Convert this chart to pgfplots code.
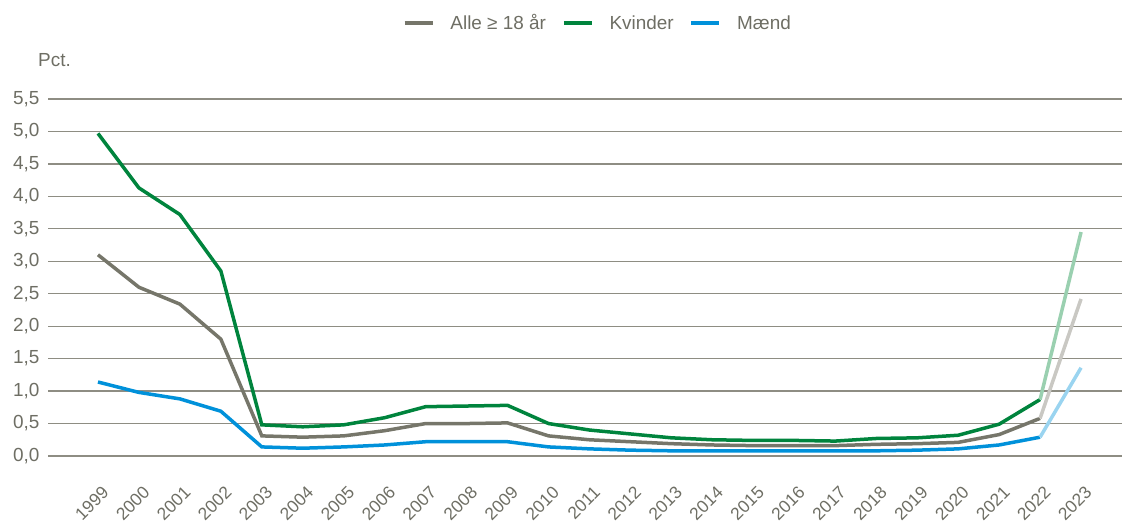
\documentclass[border=0pt]{standalone}
\usepackage{pgfplots}
\pgfplotsset{compat=1.18}
\usepackage{pgfplotstable}
\usepackage{fontspec}
\setmainfont{Liberation Sans}
\definecolor{cgrey}{HTML}{76766A}
\definecolor{cgreen}{HTML}{00843D}
\definecolor{cblue}{HTML}{0091DA}
\definecolor{lgrey}{HTML}{C9C8C3}
\definecolor{lgreen}{HTML}{9AD0B0}
\definecolor{lblue}{HTML}{9AD4F0}
\definecolor{txt}{HTML}{6E6E64}
\definecolor{gridc}{HTML}{8E8D83}

\pgfplotstableread{
x alle kvinder maend
0 3.10 4.97 1.14
1 2.60 4.13 0.98
2 2.34 3.72 0.88
3 1.80 2.85 0.69
4 0.31 0.48 0.14
5 0.29 0.45 0.12
6 0.31 0.48 0.14
7 0.39 0.59 0.17
8 0.50 0.76 0.22
9 0.50 0.77 0.22
10 0.51 0.78 0.22
11 0.31 0.50 0.14
12 0.25 0.40 0.11
13 0.22 0.34 0.09
14 0.19 0.28 0.08
15 0.17 0.25 0.08
16 0.16 0.24 0.08
17 0.16 0.24 0.08
18 0.16 0.23 0.08
19 0.18 0.27 0.08
20 0.19 0.28 0.09
21 0.21 0.32 0.11
22 0.33 0.49 0.17
23 0.58 0.87 0.29
}\maindata
\pgfplotstableread{
x alle kvinder maend
23 0.58 0.87 0.29
24 2.42 3.45 1.36
}\lastdata

\begin{document}
\begin{tikzpicture}
\useasboundingbox (0,0) rectangle (1122bp,-525bp);
\node[anchor=base west, font=\fontsize{19}{22}\selectfont, text=txt, inner sep=0pt] at (38bp,-66bp) {Pct.};
\begin{axis}[
  at={(48bp,-456bp)}, anchor=south west,
  scale only axis, width=1074bp, height=357bp,
  xmin=-1.22, xmax=25, ymin=0, ymax=5.5,
  xtick={0,1,2,3,4,5,6,7,8,9,10,11,12,13,14,15,16,17,18,19,20,21,22,23,24},
  xticklabels={1999,2000,2001,2002,2003,2004,2005,2006,2007,2008,2009,2010,2011,2012,2013,2014,2015,2016,2017,2018,2019,2020,2021,2022,2023},
  ytick={0,0.5,1,1.5,2,2.5,3,3.5,4,4.5,5,5.5},
  ymajorgrids, grid style={gridc, line width=1.2bp},
  axis line style={draw=none}, major tick length=0pt,
  tick label style={font=\fontsize{19}{22}\selectfont, text=txt},
  /pgf/number format/assume math mode=true,
  yticklabel style={/pgf/number format/.cd, use comma, fixed, fixed zerofill, precision=1, /tikz/.cd, xshift=-5bp},
  xticklabel style={font=\fontsize{17.5}{20}\selectfont, xshift=10bp, yshift=-31bp, rotate=45, anchor=east},
  legend style={at={(0.512,1.213)}, anchor=center, draw=none, fill=none,
    legend columns=3, font=\fontsize{19}{22}\selectfont, text=txt,
    /tikz/every even column/.append style={column sep=14bp},
    /tikz/every odd column/.append style={column sep=14bp}},
  legend image code/.code={\draw[#1, line width=3.5bp] (0bp,0bp) -- (28bp,0bp);},
  clip=false,
]
\addplot[cgrey, line width=3.5bp] table[x=x, y=alle] {\maindata};
\addlegendentry{Alle ≥ 18 år}
\addplot[cgreen, line width=3.5bp] table[x=x, y=kvinder] {\maindata};
\addlegendentry{Kvinder}
\addplot[cblue, line width=3.5bp] table[x=x, y=maend] {\maindata};
\addlegendentry{Mænd}
\addplot[lgrey, line width=3.5bp, forget plot] table[x=x, y=alle] {\lastdata};
\addplot[lgreen, line width=3.5bp, forget plot] table[x=x, y=kvinder] {\lastdata};
\addplot[lblue, line width=3.5bp, forget plot] table[x=x, y=maend] {\lastdata};
\end{axis}
\end{tikzpicture}
\end{document}
